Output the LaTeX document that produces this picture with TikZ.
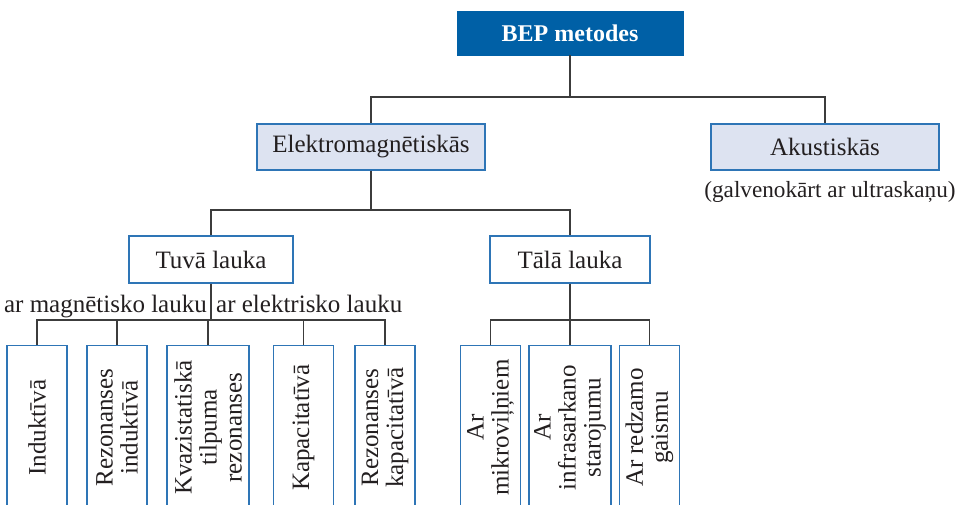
\documentclass[tikz,border=0pt]{standalone}
\usepackage{fontspec}
\setmainfont{Liberation Serif}
\definecolor{navy}{RGB}{0,96,166}
\definecolor{pale}{RGB}{221,227,241}
\definecolor{edge}{RGB}{46,117,182}
\definecolor{wire}{RGB}{60,60,60}
\definecolor{ink}{RGB}{35,31,32}
\begin{document}
\begin{tikzpicture}[x=1pt,y=-1pt,
  every node/.style={font=\fontsize{25}{25}\selectfont, text=ink},
  link/.style={draw=wire, line width=1.2pt},
  topbox/.style={fill=navy, draw=navy, text=white, font=\fontsize{24}{25}\selectfont\bfseries,
    minimum width=226, minimum height=44, inner sep=0},
  groupbox/.style={fill=pale, draw=edge, line width=1.2pt, minimum width=228, minimum height=46, inner sep=0},
  fieldbox/.style={fill=white, draw=edge, line width=1.2pt, minimum height=47, inner sep=0},
  leafbox/.style={fill=white, draw=edge, line width=1.2pt, anchor=north,
    minimum width=60, minimum height=164, inner sep=0},
  leaftext/.style={rotate=90, align=center, inner sep=0},
]
\useasboundingbox (0,0) rectangle (960,504);
\clip (0,0) rectangle (960,504);

% top levels
\node[topbox] (bep) at (570,33) {BEP metodes};
\node[groupbox] (em) at (371,147) {Elektromagnētiskās};
\node[groupbox] (ak) at (825,147) {Akustiskās};
\node[anchor=base, inner sep=0, font=\fontsize{23.2}{25}\selectfont] (akn) at (830,197) {(galvenokārt ar ultraskaņu)};

% near / far field
\node[fieldbox, minimum width=164] (near) at (211,259.5) {Tuvā lauka};
\node[fieldbox, minimum width=160] (far) at (570,259.5) {Tālā lauka};
\node[anchor=base east, inner sep=0] (mag) at (207,312) {ar magnētisko lauku};
\node[anchor=base west, inner sep=0] (el) at (216,312) {ar elektrisko lauku};

% leaves, labels reading upward
\node[leafbox, label={[leaftext]center:{Induktīvā}}] (ind) at (37,345) {};
\node[leafbox, label={[leaftext]center:{Rezonanses\\induktīvā}}] (rind) at (117,345) {};
\node[leafbox, minimum width=82, label={[leaftext]center:{Kvazistatiskā\\tilpuma\\rezonanses}}] (kva) at (208,345) {};
\node[leafbox, label={[leaftext]center:{Kapacitatīvā}}] (kap) at (303.5,345) {};
\node[leafbox, label={[leaftext]center:{Rezonanses\\kapacitatīvā}}] (rkap) at (385,345) {};
\node[leafbox, label={[leaftext]center:{Ar\\mikroviļņiem}}] (mik) at (490.5,345) {};
\node[leafbox, minimum width=82, label={[leaftext]center:{Ar\\infrasarkano\\starojumu}}] (inf) at (570,345) {};
\node[leafbox, label={[leaftext]center:{Ar redzamo\\gaismu}}] (red) at (649.5,345) {};

% bus junctions
\coordinate (j1) at (570,97);
\coordinate (j2) at (371,210);
\coordinate (j3) at (211,320);
\coordinate (j4) at (570,320);

% connectors
\draw[link] (bep.south) -- (j1);
\draw[link] (j1) -| (em.north);
\draw[link] (j1) -| (ak.north);
\draw[link] (em.south) -- (j2);
\draw[link] (j2) -| (near.north);
\draw[link] (j2) -| (far.north);
\draw[link] (near.south) -- (j3);
\draw[link] (j3) -| (ind.north);
\draw[link] (j3) -| (rind.north);
\draw[link] (j3) -| (kva.north);
\draw[link] (j3) -| (kap.north);
\draw[link] (j3) -| (rkap.north);
\draw[link] (far.south) -- (j4);
\draw[link] (j4) -| (mik.north);
\draw[link] (j4) -| (inf.north);
\draw[link] (j4) -| (red.north);
\end{tikzpicture}
\end{document}
